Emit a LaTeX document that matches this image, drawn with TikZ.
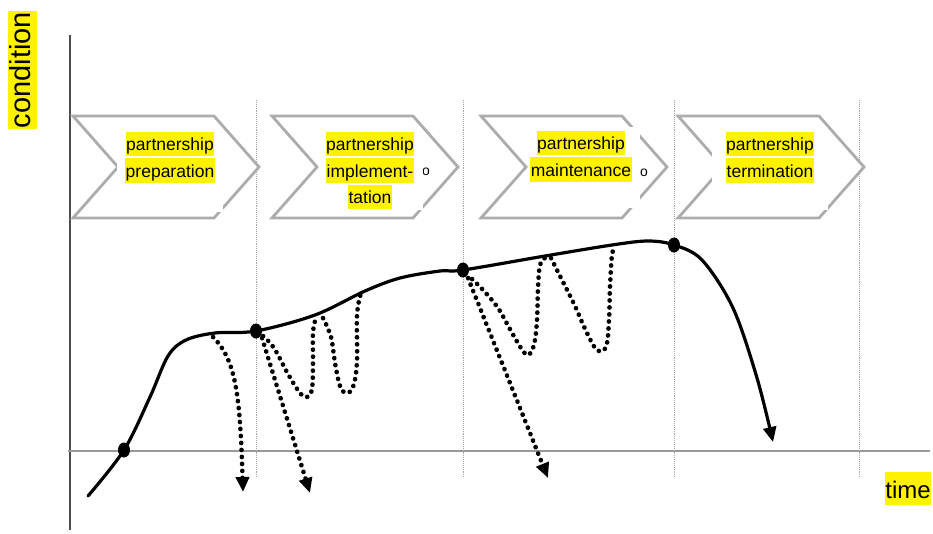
\documentclass[tikz,border=0pt]{standalone}
\usepackage{fontspec}
\setmainfont{Liberation Sans}
\usetikzlibrary{arrows.meta}

\tikzset{
  phasebox/.style={draw=gray!65, line width=2.8pt, fill=white, line join=miter},
  phaseline/.style={fill=yellow, inner xsep=0.5pt, inner ysep=0pt, text height=19pt, text depth=5.5pt, font=\fontsize{17.5}{20}\selectfont},
  axislabel/.style={fill=yellow, inner xsep=0.5pt, inner ysep=0pt},
  limit/.style={gray!70, densely dotted, line width=0.9pt},
  course/.style={black, line width=3.2pt, line cap=round},
  drift/.style={black, line width=4.6pt, line cap=round, dash pattern=on 0.2pt off 6.8pt},
  tip/.style={-{Triangle[length=15pt,width=13pt]}},
  dot/.style={fill=black}
}

\begin{document}
\begin{tikzpicture}[x=1pt, y=-1pt]
\useasboundingbox (0,0) rectangle (933,533);
\def\chevron#1{(#1,116) -- ++(141,0) -- ++(45,51) -- ++(-45,51) -- ++(-141,0) -- ++(45,-51) -- cycle}
%
% axes and phase limits
\draw[gray!60!black, line width=1.8pt] (70,35) -- (70,530);
\draw[gray!80, line width=2.4pt] (68,451) -- (930,451);
\foreach \x in {256,463,674,859}
  \draw[limit] (\x,100) -- (\x,478);
%
% phases
\foreach \x in {73,272,481,678}
  \draw[phasebox] \chevron{\x};
\node[font=\fontsize{14}{14}\selectfont, inner sep=0pt] (o1) at (426,172) {o};
\node[font=\fontsize{14}{14}\selectfont, inner sep=0pt] (o2) at (644,173) {o};
\fill[white] (117,128) rectangle (223,212);
\fill[white] (325,130) rectangle (423,210);
\fill[white] (532,127) rectangle (640,208);
\fill[white] (712,128) rectangle (828,210);
%
% Etiquettes :
\node[phaseline] (p1a) at (170,144) {partnership};
\node[phaseline] (p1b) at (170,170.5) {preparation};
\node[phaseline] (p2a) at (370,144) {partnership};
\node[phaseline] (p2b) at (370,170.5) {implement-};
\node[phaseline] (p2c) at (370,197) {tation};
\node[phaseline] (p3a) at (581,143) {partnership};
\node[phaseline] (p3b) at (581,169.5) {maintenance};
\node[phaseline] (p4a) at (770,144) {partnership};
\node[phaseline] (p4b) at (770,170.5) {termination};
\node[axislabel, text height=26pt, text depth=7pt, font=\fontsize{24}{24}\selectfont] (time) at (908,488.5) {time};
\node[axislabel, rotate=90, text height=23pt, text depth=6pt, font=\fontsize{29}{29}\selectfont] (cond) at (22,70) {condition};
%
% course of the partnership
\coordinate (d1) at (124,450);
\coordinate (d2) at (256,331);
\coordinate (d3) at (463,270);
\coordinate (d4) at (674,245);
\draw[course, tip] plot[smooth, tension=0.55] coordinates {(88,496) (d1) (150,397) (168,356) (186,340) (215,333) (d2) (315,315) (365,291) (400,278) (440,271) (d3) (545,256) (612,245) (648,241) (d4) (702,260) (733,308) (757,378) (773,442)};
%
% failures and crises
\draw[drift, tip] (213,337) .. controls (236,360) and (240,395) .. (243,492);
\draw[drift, tip] (262,338) -- (310,493);
\draw[drift] plot[smooth, tension=0.6] coordinates {(263,336) (274,348) (288,374) (300,393) (307,397) (312,389) (313,362) (313,332) (316,318)};
\draw[drift] plot[smooth, tension=0.6] coordinates {(323,318) (331,337) (335,363) (340,386) (346,393) (353,387) (357,362) (357,315) (361,293)};
\draw[drift, tip] (468,278) -- (548,478);
\draw[drift] plot[smooth, tension=0.6] coordinates {(472,279) (484,291) (498,308) (511,331) (521,348) (528,355) (534,345) (537,320) (538,288) (540,265) (545,258)};
\draw[drift] plot[smooth, tension=0.6] coordinates {(551,258) (561,278) (574,304) (587,333) (597,350) (606,347) (609,320) (610,287) (612,255) (615,247)};
%
\foreach \d in {d1,d2,d3,d4}
  \fill[dot] (\d) ellipse (6pt and 7.5pt);
\end{tikzpicture}
\end{document}
